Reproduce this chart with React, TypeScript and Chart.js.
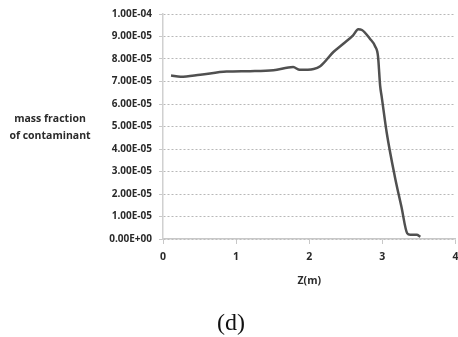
import React, { useEffect, useRef } from "react";
import { Chart, registerables } from "chart.js";

Chart.register(...registerables);

const zValues = [0.11, 0.24, 0.51, 0.87, 1.19, 1.51, 1.78, 1.87, 2.06, 2.15, 2.33, 2.47, 2.6, 2.67, 2.72, 2.83, 2.9, 2.94, 2.97, 2.99, 3.06, 3.17, 3.26, 3.34, 3.38, 3.47, 3.52];
const massFraction = [7.27e-5, 7.21e-5, 7.3e-5, 7.44e-5, 7.46e-5, 7.5e-5, 7.64e-5, 7.52e-5, 7.56e-5, 7.68e-5, 8.31e-5, 8.69e-5, 9.05e-5, 9.32e-5, 9.29e-5, 8.9e-5, 8.57e-5, 8.13e-5, 6.79e-5, 6.34e-5, 4.71e-5, 2.78e-5, 1.44e-5, 2.5e-6, 1.9e-6, 1.9e-6, 1.0e-6];
const xTicks = [0, 1, 2, 3, 4];
const yTitleLines = ["mass fraction", "of contaminant"];
const xTitle = "Z(m)";
const caption = "(d)";

const FONT = "'Open Sans', 'DejaVu Sans', sans-serif";

export default function App() {
  const ref = useRef<HTMLCanvasElement>(null);
  useEffect(() => {
    if (!ref.current) return;
    const yTitlePlugin = {
      id: "yTitle",
      afterDraw(chart: any) {
        const ctx = chart.ctx;
        ctx.save();
        ctx.font = `bold 10.5px ${FONT}`;
        ctx.fillStyle = "#2a2a2a";
        ctx.textAlign = "center";
        ctx.textBaseline = "middle";
        ctx.fillText(yTitleLines[0], 50, 119);
        ctx.fillText(yTitleLines[1], 50, 136);
        ctx.restore();
      },
    };
    const chart = new Chart(ref.current, {
      type: "line",
      data: {
        datasets: [
          {
            data: zValues.map((z, i) => ({ x: z, y: massFraction[i] })),
            borderColor: "#505050",
            borderWidth: 2.5,
            pointRadius: 0,
            cubicInterpolationMode: "monotone",
            fill: false,
          },
        ],
      },
      options: {
        animation: false,
        responsive: false,
        layout: { padding: { top: 14, right: 2.5, left: 0, bottom: 0 } },
        plugins: { legend: { display: false }, tooltip: { enabled: false } },
        scales: {
          x: {
            type: "linear",
            min: 0,
            max: 4,
            afterBuildTicks: (s: any) => {
              s.ticks = xTicks.map((v) => ({ value: v }));
            },
            afterFit: (s: any) => {
              s.height = 61;
              s.paddingLeft = 0;
              s.paddingRight = 0;
            },
            border: { color: "#c8c8c8", width: 1.5 },
            grid: { drawOnChartArea: false, drawTicks: true, tickLength: 5, color: "#c8c8c8" },
            ticks: { padding: 7, color: "#2a2a2a", font: { family: FONT, size: 10.5, weight: "bold" } },
            title: {
              display: true,
              text: xTitle,
              color: "#2a2a2a",
              font: { family: FONT, size: 10.5, weight: "bold" },
              padding: { top: 0, bottom: 13 },
            },
          },
          y: {
            min: 0,
            max: 1e-4,
            afterFit: (s: any) => {
              s.width = 163;
              s.paddingTop = 0;
              s.paddingBottom = 0;
            },
            border: { color: "#d0d0d0", width: 1.5, dash: [2, 2] },
            grid: {
              color: "#b8b8b8",
              lineWidth: 1,
              drawTicks: true,
              tickLength: 4,
              tickColor: "#c8c8c8",
              tickBorderDash: [],
            } as any,
            ticks: {
              stepSize: 1e-5,
              padding: 7,
              color: "#2a2a2a",
              font: { family: FONT, size: 10, weight: "bold" },
              callback: (v: any) => {
                const n = Number(v);
                if (Math.abs(n) < 1e-12) return "0.00E+00";
                const s = n.toExponential(2).toUpperCase();
                const [m, e] = s.split("E");
                const ei = parseInt(e, 10);
                return `${m}E${ei < 0 ? "-" : "+"}${String(Math.abs(ei)).padStart(2, "0")}`;
              },
            },
          },
        },
      } as any,
      plugins: [yTitlePlugin],
    });
    return () => chart.destroy();
  }, []);
  return (
    <div style={{ position: "fixed", left: 0, top: 0, width: 458, height: 337, background: "#fff" }}>
      <canvas ref={ref} width={458} height={300} style={{ display: "block" }} />
      <div
        style={{
          position: "absolute",
          left: 0,
          width: 462,
          top: 308,
          textAlign: "center",
          fontFamily: "'Liberation Serif', 'Times New Roman', serif",
          fontSize: 24,
          lineHeight: "28px",
          color: "#111",
        }}
      >
        {caption}
      </div>
    </div>
  );
}
